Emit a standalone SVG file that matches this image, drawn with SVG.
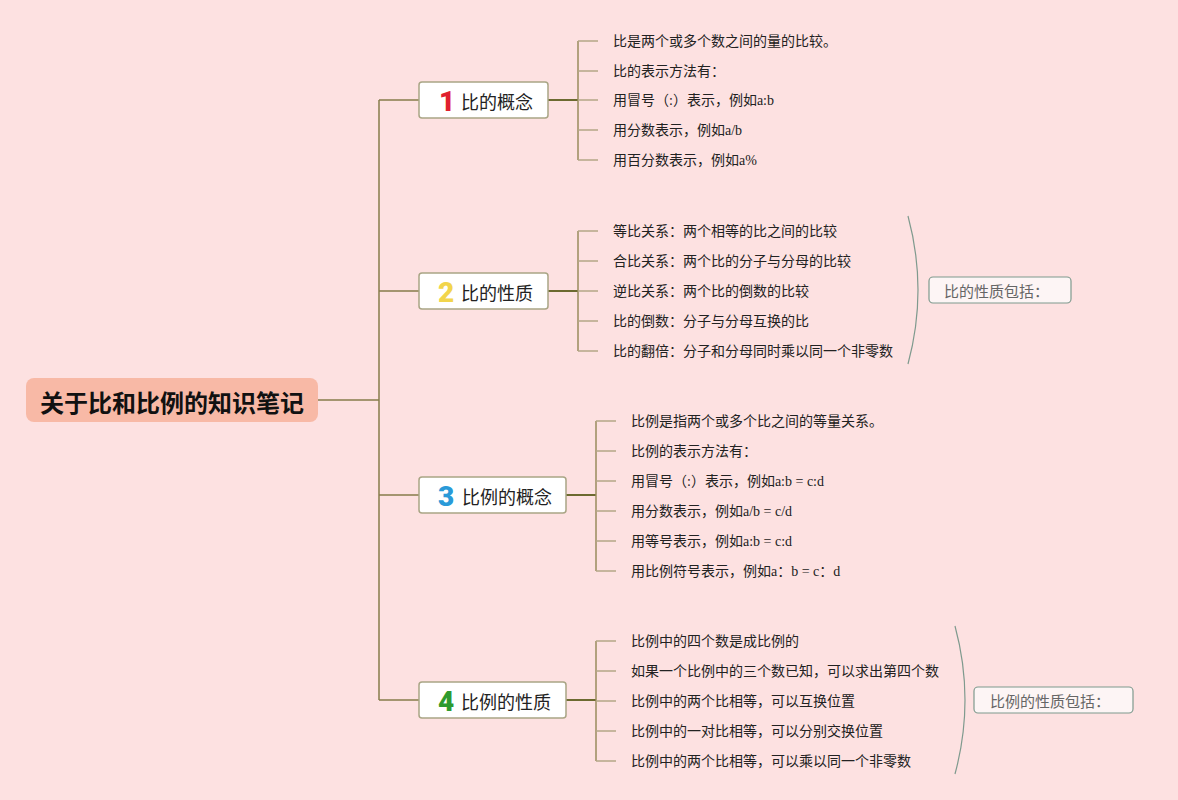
<svg xmlns="http://www.w3.org/2000/svg" width="1178" height="800" viewBox="0 0 1178 800">
<style>
.bg{fill:#fde1e1}
.root{fill:#f8b9a6}
.rootText{font-family:"Noto Sans CJK SC",sans-serif;font-weight:bold;font-size:24px;fill:#111}
.node rect{fill:#ffffff;stroke:#a9a585;stroke-width:1.5}
.label{font-family:"Noto Sans CJK SC",sans-serif;font-size:18px;fill:#222}
.digit{font-family:Roboto,"Liberation Sans",sans-serif;font-weight:900;font-size:28px}
.leaf{font-family:"Liberation Serif","Noto Sans CJK SC",serif;font-size:14px;fill:#222}
.trunk{stroke:#877c4b;stroke-width:1.5;fill:none}
.stem{stroke:#6c6a30;stroke-width:2;fill:none}
.vert{stroke:#988b5c;stroke-width:1.5;fill:none}
.tick{stroke:#b4a787;stroke-width:1.5;fill:none}
.brace{stroke:#7f9a8e;stroke-width:1.2;fill:none}
.sum rect{fill:#fdf5f5;stroke:#7f9a8e;stroke-width:1.2}
.sumText{font-family:"Noto Sans CJK SC",sans-serif;font-size:15px;fill:#666}
</style>
<rect class="bg" x="0" y="0" width="1178" height="800"/>

<g id="connectors">
  <path class="trunk" d="M318,400 H379 M379,100 V700 M379,100 H419 M379,291 H419 M379,495 H419 M379,700 H419"/>
  <path class="stem" d="M548,100 H578"/>
  <path class="vert" d="M578,41 V160"/>
  <path class="tick" d="M578,41 H598 M578,71 H598 M578,100 H598 M578,130 H598 M578,160 H598"/>
  <path class="stem" d="M548,291 H578"/>
  <path class="vert" d="M578,231 V351"/>
  <path class="tick" d="M578,231 H598 M578,261 H598 M578,291 H598 M578,321 H598 M578,351 H598"/>
  <path class="stem" d="M566,495 H596"/>
  <path class="vert" d="M596,421 V571"/>
  <path class="tick" d="M596,421 H616 M596,451 H616 M596,481 H616 M596,511 H616 M596,541 H616 M596,571 H616"/>
  <path class="stem" d="M566,700 H596"/>
  <path class="vert" d="M596,641 V761"/>
  <path class="tick" d="M596,641 H616 M596,671 H616 M596,701 H616 M596,731 H616 M596,761 H616"/>
  <path class="brace" d="M908,216 Q928,290 908,364"/>
  <path class="brace" d="M955,626 Q975,700 955,774"/>
</g>

<g id="root">
  <rect class="root" x="26" y="378" width="292" height="44" rx="8"/>
  <text class="rootText" x="172" y="401" text-anchor="middle" dominant-baseline="central">关于比和比例的知识笔记</text>
</g>

<g id="node1" class="node">
  <rect x="419" y="82" width="129" height="36" rx="3"/>
  <text class="digit" x="447" y="101" text-anchor="middle" dominant-baseline="central" fill="#e0202e">1</text>
  <text class="label" x="461" y="101" dominant-baseline="central">比的概念</text>
</g>
<g id="node2" class="node">
  <rect x="419" y="273" width="129" height="36" rx="3"/>
  <text class="digit" x="446" y="292" text-anchor="middle" dominant-baseline="central" fill="#f2d54c">2</text>
  <text class="label" x="461" y="292" dominant-baseline="central">比的性质</text>
</g>
<g id="node3" class="node">
  <rect x="419" y="477" width="147" height="36" rx="3"/>
  <text class="digit" x="446" y="496" text-anchor="middle" dominant-baseline="central" fill="#2a9ad8">3</text>
  <text class="label" x="462" y="496" dominant-baseline="central">比例的概念</text>
</g>
<g id="node4" class="node">
  <rect x="419" y="682" width="147" height="36" rx="3"/>
  <text class="digit" x="446" y="701" text-anchor="middle" dominant-baseline="central" fill="#2e9a2e">4</text>
  <text class="label" x="461" y="701" dominant-baseline="central">比例的性质</text>
</g>

<g id="leaves1">
  <text class="leaf" x="613" y="41" dominant-baseline="central">比是两个或多个数之间的量的比较。</text>
  <text class="leaf" x="613" y="71" dominant-baseline="central">比的表示方法有：</text>
  <text class="leaf" x="613" y="100" dominant-baseline="central">用冒号（:）表示，例如a:b</text>
  <text class="leaf" x="613" y="130" dominant-baseline="central">用分数表示，例如a/b</text>
  <text class="leaf" x="613" y="160" dominant-baseline="central">用百分数表示，例如a%</text>
</g>
<g id="leaves2">
  <text class="leaf" x="613" y="231" dominant-baseline="central">等比关系：两个相等的比之间的比较</text>
  <text class="leaf" x="613" y="261" dominant-baseline="central">合比关系：两个比的分子与分母的比较</text>
  <text class="leaf" x="613" y="291" dominant-baseline="central">逆比关系：两个比的倒数的比较</text>
  <text class="leaf" x="613" y="321" dominant-baseline="central">比的倒数：分子与分母互换的比</text>
  <text class="leaf" x="613" y="351" dominant-baseline="central">比的翻倍：分子和分母同时乘以同一个非零数</text>
</g>
<g id="leaves3">
  <text class="leaf" x="631" y="421" dominant-baseline="central">比例是指两个或多个比之间的等量关系。</text>
  <text class="leaf" x="631" y="451" dominant-baseline="central">比例的表示方法有：</text>
  <text class="leaf" x="631" y="481" dominant-baseline="central">用冒号（:）表示，例如a:b = c:d</text>
  <text class="leaf" x="631" y="511" dominant-baseline="central">用分数表示，例如a/b = c/d</text>
  <text class="leaf" x="631" y="541" dominant-baseline="central">用等号表示，例如a:b = c:d</text>
  <text class="leaf" x="631" y="571" dominant-baseline="central">用比例符号表示，例如a：b = c：d</text>
</g>
<g id="leaves4">
  <text class="leaf" x="631" y="641" dominant-baseline="central">比例中的四个数是成比例的</text>
  <text class="leaf" x="631" y="671" dominant-baseline="central">如果一个比例中的三个数已知，可以求出第四个数</text>
  <text class="leaf" x="631" y="701" dominant-baseline="central">比例中的两个比相等，可以互换位置</text>
  <text class="leaf" x="631" y="731" dominant-baseline="central">比例中的一对比相等，可以分别交换位置</text>
  <text class="leaf" x="631" y="761" dominant-baseline="central">比例中的两个比相等，可以乘以同一个非零数</text>
</g>

<g id="summary1" class="sum">
  <rect x="929" y="277" width="142" height="26" rx="4"/>
  <text class="sumText" x="944" y="290" dominant-baseline="central">比的性质包括：</text>
</g>
<g id="summary2" class="sum">
  <rect x="974" y="687" width="159" height="26" rx="4"/>
  <text class="sumText" x="990" y="700" dominant-baseline="central">比例的性质包括：</text>
</g>
</svg>
